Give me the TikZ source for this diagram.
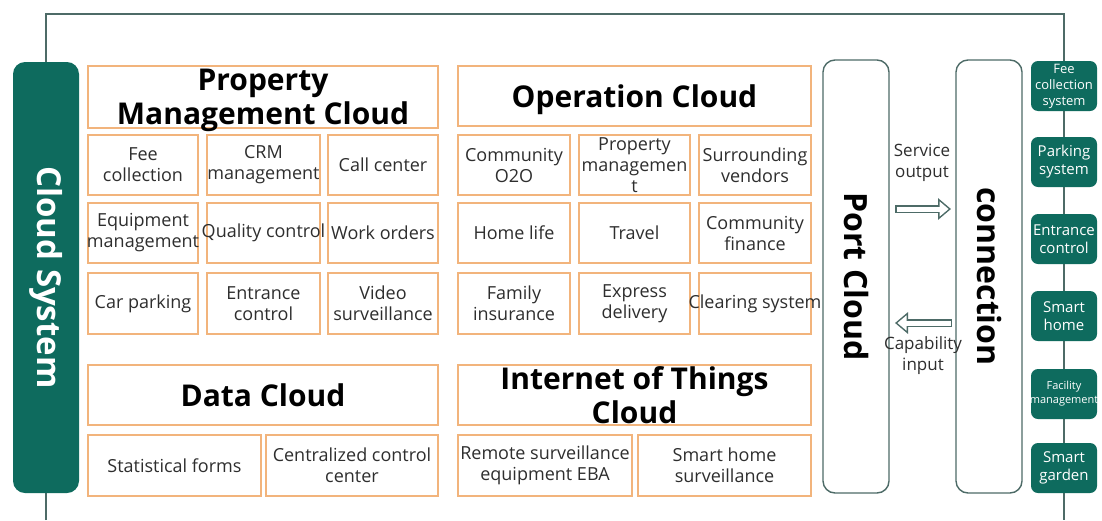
\documentclass[tikz,border=0pt]{standalone}
\usepackage{fontspec}
\setmainfont{Open Sans}
\usetikzlibrary{arrows.meta,backgrounds}
\definecolor{tealbox}{HTML}{0E6B5E}
\definecolor{framegray}{HTML}{4D6B67}
\definecolor{cellorange}{HTML}{F2B47C}
\definecolor{celltext}{HTML}{2E2E2E}
\tikzset{
  cell/.style={draw=cellorange, line width=1.6pt, fill=white, align=center,
    inner sep=-30pt, text=celltext, font=\fontsize{18}{21}\selectfont},
  headcell/.style={cell, text=black, text depth=0pt, font=\fontsize{30}{34}\selectfont\bfseries},
  pillar/.style={draw=framegray, line width=1.4pt, rounded corners=12pt, fill=white,
    rotate=-90, inner sep=0pt, minimum width=433pt, minimum height=66pt,
    font=\fontsize{32}{32}\selectfont\bfseries},
  sidebox/.style={fill=tealbox, rounded corners=7pt, text=white, align=center,
    inner sep=-20pt, minimum width=66pt, minimum height=50pt},
  note/.style={align=center, text=celltext, font=\fontsize{17}{21}\selectfont},
  hollow/.style={draw=framegray, line width=8pt, -{Triangle[length=13pt, width=21pt]},
    postaction={draw=white, line width=5pt, shorten <=1.5pt, shorten >=2.4pt,
      -{Triangle[length=9.1pt, width=14.7pt]}}},
  frame/.style={draw=framegray, line width=1.6pt}
}
\begin{document}
\begin{tikzpicture}[x=1pt, y=-1pt]
  \useasboundingbox (0,0) rectangle (1102,520);
  % headers
  \foreach \xn/\xx/\xy/\xw/\xh/\xt in {
    pmc/263/97/350/62/{Property\\Management Cloud},
    opc/634.5/96/353/60/{Operation Cloud},
    dat/263/395/350/60/{Data Cloud},
    iot/634.5/395/353/60/{Internet of Things\\Cloud}}
    \node[headcell, minimum width=\xw, minimum height=\xh] (\xn) at (\xx,\xy) {\xt};
  % cells
  \foreach \xn/\xx/\xy/\xw/\xh/\xt in {
    fee/143/165/110/60/{Fee\\collection}, crm/263.5/165/113/60/{CRM\\management},
    call/383/165/110/60/{Call center}, equip/143/233/110/60/{Equipment\\management},
    quality/263.5/233/113/60/{Quality control}, work/383/233/110/60/{Work orders},
    car/143/303.5/110/61/{Car parking}, entr/263.5/303.5/113/61/{Entrance\\control},
    video/383/303.5/110/61/{Video\\surveillance},
    stat/174.5/465.5/173/61/{Statistical forms},
    cent/352/465.5/172/61/{Centralized control\\center},
    o2o/514/165/112/60/{Community\\O2O}, propm/634.5/165/111/60/{Property\\managemen\\t},
    vend/755/165/112/60/{Surrounding\\vendors}, home/514/233/112/60/{Home life},
    travel/634.5/233/111/60/{Travel}, fin/755/233/112/60/{Community\\finance},
    insur/514/303.5/112/61/{Family\\insurance}, expr/634.5/303.5/111/61/{Express\\delivery},
    clear/755/303.5/112/61/{Clearing system},
    remote/545/465.5/174/61/{Remote surveillance\\equipment EBA},
    shome/724.5/465.5/173/61/{Smart home\\surveillance}}
    \node[cell, minimum width=\xw, minimum height=\xh] (\xn) at (\xx,\xy) {\xt};
  % columns
  \node[pillar, fill=tealbox, draw=none, text=white, minimum width=431pt,
    font=\fontsize{33}{33}\selectfont\bfseries] (cloudsys) at (46,277.5) {Cloud System};
  \node[pillar] (port) at (856,276.5) {Port Cloud};
  \node[pillar] (conn) at (989,276.5) {connection};
  % right side systems
  \foreach \xn/\xy/\xf/\xl/\xt in {
    sfee/86/13/16/{Fee\\collection\\system}, spark/162/15/18/{Parking\\system},
    sentr/239/15/18/{Entrance\\control}, ssmart/316/15/18/{Smart\\home},
    sfac/394/11/14/{Facility\\management}, sgard/468/15/18/{Smart\\garden}}
    \node[sidebox, font=\fontsize{\xf}{\xl}\selectfont] (\xn) at (1064,\xy) {\xt};
  % exchange arrows
  \coordinate (so1) at (895,209);
  \coordinate (so2) at (951,209);
  \coordinate (ci1) at (952,323);
  \coordinate (ci2) at (895,323);
  \draw[hollow] (so1) -- (so2);
  \draw[hollow] (ci1) -- (ci2);
  \node[note] (sotext) at (922,163) {Service\\output};
  \node[note] (citext) at (923,356) {Capability\\input};
  \begin{scope}[on background layer]
    \fill[white] (0,0) rectangle (1102,520);
    \draw[frame] (cloudsys.center |- 0,520) -- (cloudsys.center |- 0,14)
      -- (sfee.center |- 0,14) -- (sfee.center |- 0,520);
  \end{scope}
\end{tikzpicture}
\end{document}
